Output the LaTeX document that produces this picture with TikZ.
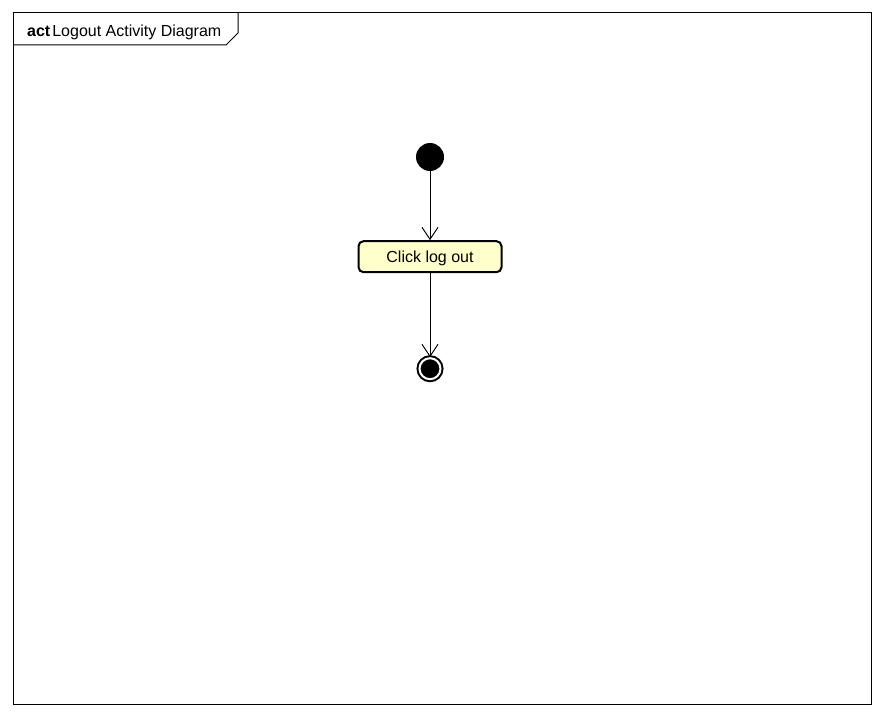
\documentclass[tikz,border=0pt]{standalone}
\usepackage{fontspec}
\setmainfont{Liberation Sans}
\usepackage{tikz}
\usetikzlibrary{arrows.meta,positioning}

\definecolor{actfill}{RGB}{255,255,204}

\begin{document}
\begin{tikzpicture}[
    x=1pt, y=-1pt,
    node distance=69pt,
    font=\fontsize{16}{19}\selectfont,
    start/.style={circle, fill=black, minimum size=28pt, inner sep=0pt},
    action/.style={draw, line width=2pt, rounded corners=5pt, fill=actfill, minimum height=31pt, minimum width=143pt, inner sep=0pt, text depth=0pt},
    stop/.style={circle, draw=black, fill=black, line width=2pt, double=white, double distance=2pt, minimum size=21pt, inner sep=0pt},
    arrow/.style={-{Straight Barb[length=12pt, width=16pt]}, line width=1pt}
  ]
    \useasboundingbox (0,0) rectangle (884,717);
    % frame
    \draw[line width=1pt] (13,13) rectangle (871,704);
    \draw[line width=1pt] (13,45) -- (226,45) -- (238,33) -- (238,13);
    \node[anchor=base west, inner sep=0pt] (title) at (27,37) {\textbf{act}\kern2pt Logout Activity Diagram};

    \node[start] (init) at (430,157) {};
    \node[action, below=of init] (logout) {Click log out};
    \node[stop, below=84pt of logout] (final) {};

    \draw[arrow] (init) -- (logout);
    \draw[arrow] (logout) -- (final);
  \end{tikzpicture}
\end{document}
